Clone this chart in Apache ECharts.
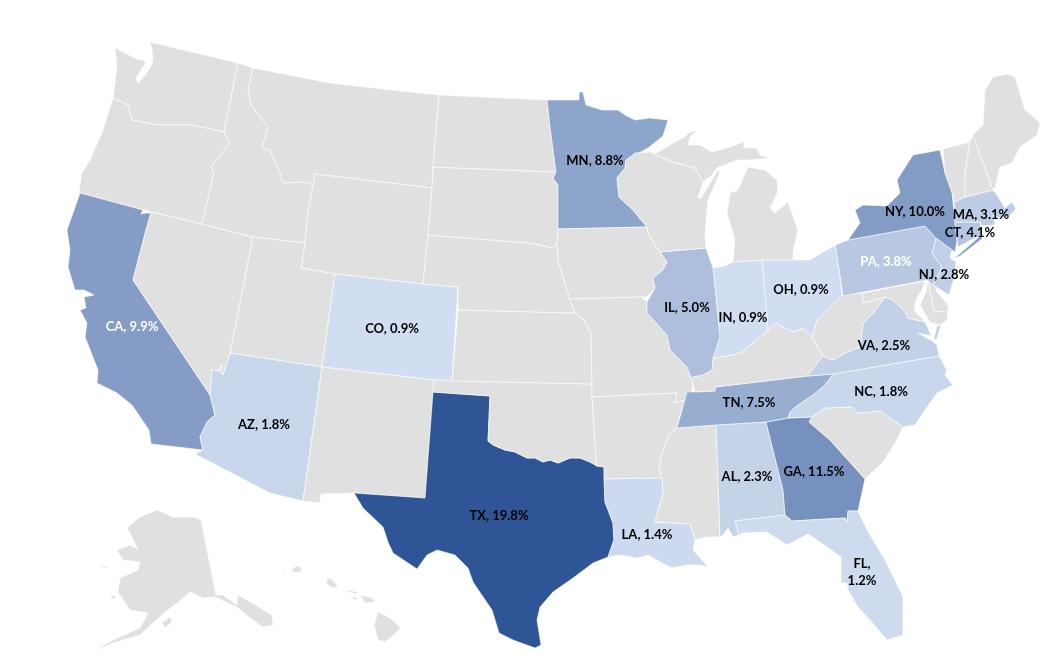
<!DOCTYPE html>
<html><head><meta charset="utf-8">
<style>html,body{margin:0;padding:0;background:#fff}#c{width:1054px;height:661px}</style>
<script src="https://cdn.jsdelivr.net/npm/echarts@6/dist/echarts.min.js"></script>
</head><body><div id="c"></div>
<script>
const stateCodes = ['TX','GA','NY','CA','MN','TN','IL','CT','PA','MA','NJ','VA','AL','AZ','NC','LA','FL','CO','IN','OH'];
const shareValues = [19.8,11.5,10.0,9.9,8.8,7.5,5.0,4.1,3.8,3.1,2.8,2.5,2.3,1.8,1.8,1.4,1.2,0.9,0.9,0.9];
const whiteLabelStates = ['CA','PA'];
const twoLineLabelStates = ['FL'];

const labelAnchors = {TX:[499,516],GA:[814,472],NY:[915,212],CA:[132,327],MN:[595,161],TN:[749,403],IL:[687,308],CT:[970,233],PA:[886,262],MA:[981,215],NJ:[944,275],VA:[884,346],AL:[747,477],AZ:[264,425],NC:[881,392],LA:[647,535],FL:[862,572],CO:[392,329],IN:[743,318],OH:[801,290]};

const shapes = {
WA:[[[150,42],[238,63],[224,132],[192,125],[157,125],[132,120],[128,105],[113,98],[115,83],[117,67],[115,48],[125,53],[137,59],[143,60],[146,63],[141,70],[136,78],[138,83],[143,78],[150,68],[153,60],[152,50]]],
OR:[[[113,98],[128,105],[132,120],[157,125],[192,125],[224,132],[230,143],[211,167],[214,173],[202,224],[143,210],[80,193],[79,190],[82,173],[90,160],[103,130]]],
CA:[[[80,193],[143,210],[141,214],[146,213],[151,213],[146,230],[133,280],[210,395],[215,415],[207,422],[200,437],[203,450],[151,444],[149,430],[132,405],[117,393],[97,383],[98,370],[85,337],[87,323],[80,310],[86,308],[84,297],[94,295],[84,290],[75,290],[68,267],[70,250],[67,230],[73,213]]],
NV:[[[143,210],[202,224],[253,237],[230,353],[223,375],[220,372],[222,365],[219,371],[212,370],[210,395],[133,280],[146,230],[151,213]]],
ID:[[[238,63],[253,68],[248,90],[251,105],[268,127],[262,148],[270,150],[280,173],[283,183],[307,182],[313,185],[308,213],[305,243],[253,237],[202,224],[214,173],[211,167],[230,143],[224,132]]],
MT:[[[253,68],[330,83],[400,91],[439,95],[433,167],[432,188],[315,174],[313,185],[307,182],[283,183],[280,173],[270,150],[262,148],[268,127],[251,105],[248,90]]],
WY:[[[315,174],[432,188],[428,235],[423,284],[335,274],[301,268],[305,243],[308,213],[313,185]]],
UT:[[[253,237],[305,243],[301,268],[335,274],[322,367],[230,353]]],
CO:[[[335,274],[423,284],[458,287],[452,381],[434,380],[322,367]]],
AZ:[[[230,353],[322,367],[303,501],[270,493],[195,454],[203,450],[200,437],[207,422],[215,415],[210,395],[212,370],[219,371],[222,365],[220,372],[223,375]]],
NM:[[[322,367],[434,380],[433,392],[425,498],[354,493],[321,494],[320,503],[303,501]]],
TX:[[[433,392],[490,396],[488,441],[493,445],[505,450],[515,452],[527,458],[535,458],[543,462],[550,460],[558,463],[570,458],[580,458],[590,462],[597,466],[604,467],[605,502],[613,523],[614,540],[608,557],[593,563],[573,578],[553,592],[540,607],[537,620],[541,645],[535,648],[513,640],[499,633],[492,610],[473,582],[468,568],[455,555],[437,550],[427,555],[417,569],[393,553],[388,542],[383,527],[363,508],[354,493],[425,498]]],
OK:[[[434,380],[592,384],[592,397],[596,457],[597,466],[590,462],[580,458],[570,458],[558,463],[550,460],[543,462],[535,458],[527,458],[515,452],[505,450],[493,445],[488,441],[490,396],[433,392]]],
KS:[[[458,310],[575,313],[584,320],[591,333],[592,384],[452,381]]],
NE:[[[428,235],[530,243],[553,248],[557,243],[558,260],[567,290],[570,300],[575,313],[458,310],[458,287],[423,284]]],
SD:[[[433,167],[556,172],[553,178],[558,185],[558,229],[557,243],[553,248],[530,243],[428,235],[432,188]]],
ND:[[[439,95],[547,100],[550,127],[556,172],[433,167]]],
MN:[[[547,100],[579,100],[579,92],[583,92],[586,105],[602,110],[618,110],[625,115],[635,120],[650,118],[668,120],[663,136],[648,148],[626,160],[625,168],[617,178],[619,197],[633,210],[647,227],[558,229],[558,185],[553,178],[556,172],[550,127]]],
IA:[[[558,229],[647,227],[648,233],[658,250],[667,262],[663,270],[653,278],[655,288],[647,297],[642,297],[572,299],[570,300],[567,290],[558,260],[557,243]]],
MO:[[[572,299],[642,297],[647,302],[647,313],[667,335],[670,350],[687,367],[691,378],[693,384],[692,390],[685,400],[675,403],[677,393],[592,397],[592,384],[591,333],[584,320],[575,313],[570,300]]],
AR:[[[592,397],[677,393],[675,403],[685,400],[680,415],[677,428],[670,433],[663,450],[659,467],[662,478],[604,479],[604,467],[597,466],[596,457]]],
LA:[[[604,479],[662,478],[663,493],[655,522],[690,524],[695,540],[693,550],[708,567],[700,565],[687,565],[672,568],[662,563],[648,555],[637,558],[620,555],[608,557],[614,540],[613,523],[605,502]]],
MS:[[[677,428],[716,425],[717,450],[720,537],[706,537],[695,540],[690,524],[655,522],[663,493],[662,478],[659,467],[663,450],[670,433]]],
AL:[[[716,425],[766,422],[773,450],[783,490],[785,515],[735,521],[739,535],[733,537],[728,528],[723,535],[720,537],[717,450]]],
GA:[[[766,422],[788,418],[812,417],[809,422],[830,440],[865,479],[858,511],[848,511],[847,522],[845,518],[792,521],[785,515],[783,490],[773,450]]],
FL:[[[735,521],[785,515],[792,521],[845,518],[847,522],[848,511],[858,511],[867,530],[885,560],[903,597],[903,635],[887,640],[870,620],[858,607],[848,590],[847,583],[841,583],[841,557],[827,547],[808,534],[787,545],[767,532],[743,533],[739,535]]],
SC:[[[812,417],[825,408],[852,407],[858,413],[880,411],[903,427],[895,443],[883,462],[865,479],[830,440],[809,422]]],
NC:[[[833,374],[939,356],[947,370],[945,375],[953,385],[937,393],[927,407],[915,425],[903,427],[880,411],[858,413],[852,407],[825,408],[812,417],[788,418],[790,412],[795,407],[813,395],[825,385]]],
TN:[[[833,374],[807,376],[715,387],[715,391],[687,392],[677,428],[716,425],[766,422],[788,418],[790,412],[795,407],[813,395],[825,385]]],
KY:[[[807,376],[823,356],[812,337],[803,328],[793,332],[775,323],[768,330],[753,343],[742,352],[733,355],[713,358],[712,370],[703,375],[693,377],[691,378],[693,384],[695,392],[715,391],[715,387]]],
VA:[[[833,374],[939,356],[937,345],[932,341],[918,333],[931,336],[928,328],[925,322],[908,318],[905,312],[893,300],[885,297],[873,313],[863,323],[860,347],[847,352],[833,360],[823,356],[807,376]],[[941,325],[936,341],[934,338],[937,326]]],
WV:[[[812,337],[817,320],[825,312],[838,297],[842,295],[843,296],[863,293],[863,303],[885,297],[873,313],[863,323],[860,347],[847,352],[833,360],[823,356]]],
MD:[[[863,293],[925,281],[922,290],[916,300],[914,310],[925,322],[908,318],[905,312],[893,300],[885,297],[863,303]],[[928,280],[934,311],[948,312],[947,320],[940,325],[930,322],[920,305],[926,292]]],
DE:[[[928,280],[933,279],[937,292],[948,305],[948,312],[934,311]]],
NJ:[[[936,238],[952,250],[950,258],[956,262],[955,275],[949,295],[933,285],[942,267],[932,253]]],
PA:[[[835,245],[848,240],[925,226],[936,238],[932,253],[942,267],[933,285],[927,280],[843,296],[839,270]]],
NY:[[[848,240],[860,223],[855,210],[863,205],[887,206],[900,193],[897,180],[913,155],[940,150],[945,173],[952,192],[955,222],[957,240],[955,252],[936,238],[925,226]],[[955,258],[980,236],[983,238],[960,256]]],
CT:[[[955,222],[980,222],[982,234],[958,247],[957,240]]],
MA:[[[954,202],[965,197],[993,190],[997,195],[1005,208],[1012,202],[1016,209],[1008,217],[1000,218],[993,215],[995,225],[982,226],[980,222],[955,222]]],
VT:[[[943,149],[970,142],[965,173],[965,197],[954,202],[952,192],[945,173]]],
NH:[[[970,142],[973,135],[993,190],[965,197],[965,173]]],
ME:[[[973,135],[983,125],[985,90],[993,77],[1007,74],[1015,77],[1025,110],[1040,123],[1037,135],[1020,147],[1012,163],[1000,167],[995,188],[993,190]]],
OH:[[[762,260],[793,260],[810,260],[835,245],[839,270],[842,295],[825,312],[817,320],[812,337],[803,328],[793,332],[775,323],[768,330]]],
IN:[[[713,268],[725,266],[733,262],[762,260],[768,330],[753,343],[742,352],[733,355],[713,358],[720,337]]],
IL:[[[660,252],[706,248],[713,268],[720,337],[713,358],[712,370],[703,375],[693,377],[691,378],[687,367],[670,350],[667,335],[647,313],[647,302],[655,288],[653,278],[663,270],[667,262]]],
WI:[[[648,233],[647,227],[633,210],[619,197],[617,178],[625,168],[626,160],[635,153],[650,152],[657,155],[673,162],[695,168],[703,182],[698,198],[701,198],[706,190],[718,170],[720,172],[708,200],[706,220],[705,237],[706,248],[660,252],[658,250]]],
MI:[[[650,152],[657,153],[673,143],[683,138],[690,132],[698,130],[690,137],[688,145],[700,145],[712,152],[730,147],[743,142],[745,148],[757,148],[760,155],[770,158],[750,160],[737,160],[725,165],[718,167],[712,175],[703,182],[695,168],[673,162],[657,155]],[[748,167],[765,170],[777,180],[778,192],[770,208],[775,213],[788,202],[798,230],[793,252],[793,260],[762,260],[733,262],[735,240],[727,213],[730,193],[738,190],[743,178]]],
AK:[[[127,528],[140,517],[157,510],[173,517],[193,517],[201,520],[216,595],[223,595],[237,605],[238,595],[247,600],[272,615],[273,625],[263,627],[250,618],[237,607],[215,597],[203,598],[190,592],[177,603],[165,612],[153,623],[140,635],[113,643],[92,652],[113,640],[140,628],[148,613],[130,610],[118,592],[120,578],[138,570],[140,562],[123,560],[117,550],[130,545],[138,549],[132,537]],[[162,623],[170,617],[172,622],[165,628]],[[110,597],[115,595],[116,598],[112,599]],[[100,564],[107,567],[108,569],[103,567]]],
HI:[[[378,612],[390,618],[401,628],[385,642],[378,640],[374,625]],[[360,595],[373,598],[375,602],[365,603]],[[347,590],[358,592],[357,594],[348,592]],[[352,597],[357,597],[357,600],[353,599]],[[328,578],[333,580],[338,587],[332,588],[326,583]],[[292,568],[298,566],[302,568],[300,573],[293,572]],[[282,573],[285,570],[285,572]]]
};

const usGeo = {type:'FeatureCollection',features:Object.keys(shapes).map(function(code){
  const closed = shapes[code].map(function(r){return [r.concat([r[0]])];});
  const props = {name:code};
  if (labelAnchors[code]) props.cp = labelAnchors[code];
  return {type:'Feature',properties:props,geometry:{type:'MultiPolygon',coordinates:closed}};
})};
echarts.registerMap('us', usGeo);

const chart = echarts.init(document.getElementById('c'), null, {renderer:'canvas'});
const seriesData = stateCodes.map(function(code,i){
  return {name:code,value:shareValues[i],label:{color:whiteLabelStates.indexOf(code)>=0?'#ffffff':'#000000'}};
});
chart.setOption({
  animation:false,
  backgroundColor:'#ffffff',
  visualMap:{show:false,type:'continuous',min:0.9,max:19.8,seriesIndex:0,inRange:{color:['#d1ddf0','#2f5597']}},
  series:[{
    type:'map',map:'us',roam:false,silent:true,aspectScale:1,
    projection:{project:function(p){return p;},unproject:function(p){return p;}},
    left:0,top:0,right:0,bottom:0,
    boundingCoords:[[0,0],[1054,661]],
    itemStyle:{areaColor:'#e0e0e0',borderColor:'#ffffff',borderWidth:0.6},
    emphasis:{disabled:true},
    label:{show:true,fontFamily:'Lato',fontWeight:'bold',fontSize:13,lineHeight:17,color:'#000',
      formatter:function(p){
        if (p.value==null||isNaN(p.value)) return '';
        const sep = twoLineLabelStates.indexOf(p.name)>=0?',\n':', ';
        return p.name+sep+p.value.toFixed(1)+'%';
      }},
    data:seriesData
  }]
});
</script></body></html>
